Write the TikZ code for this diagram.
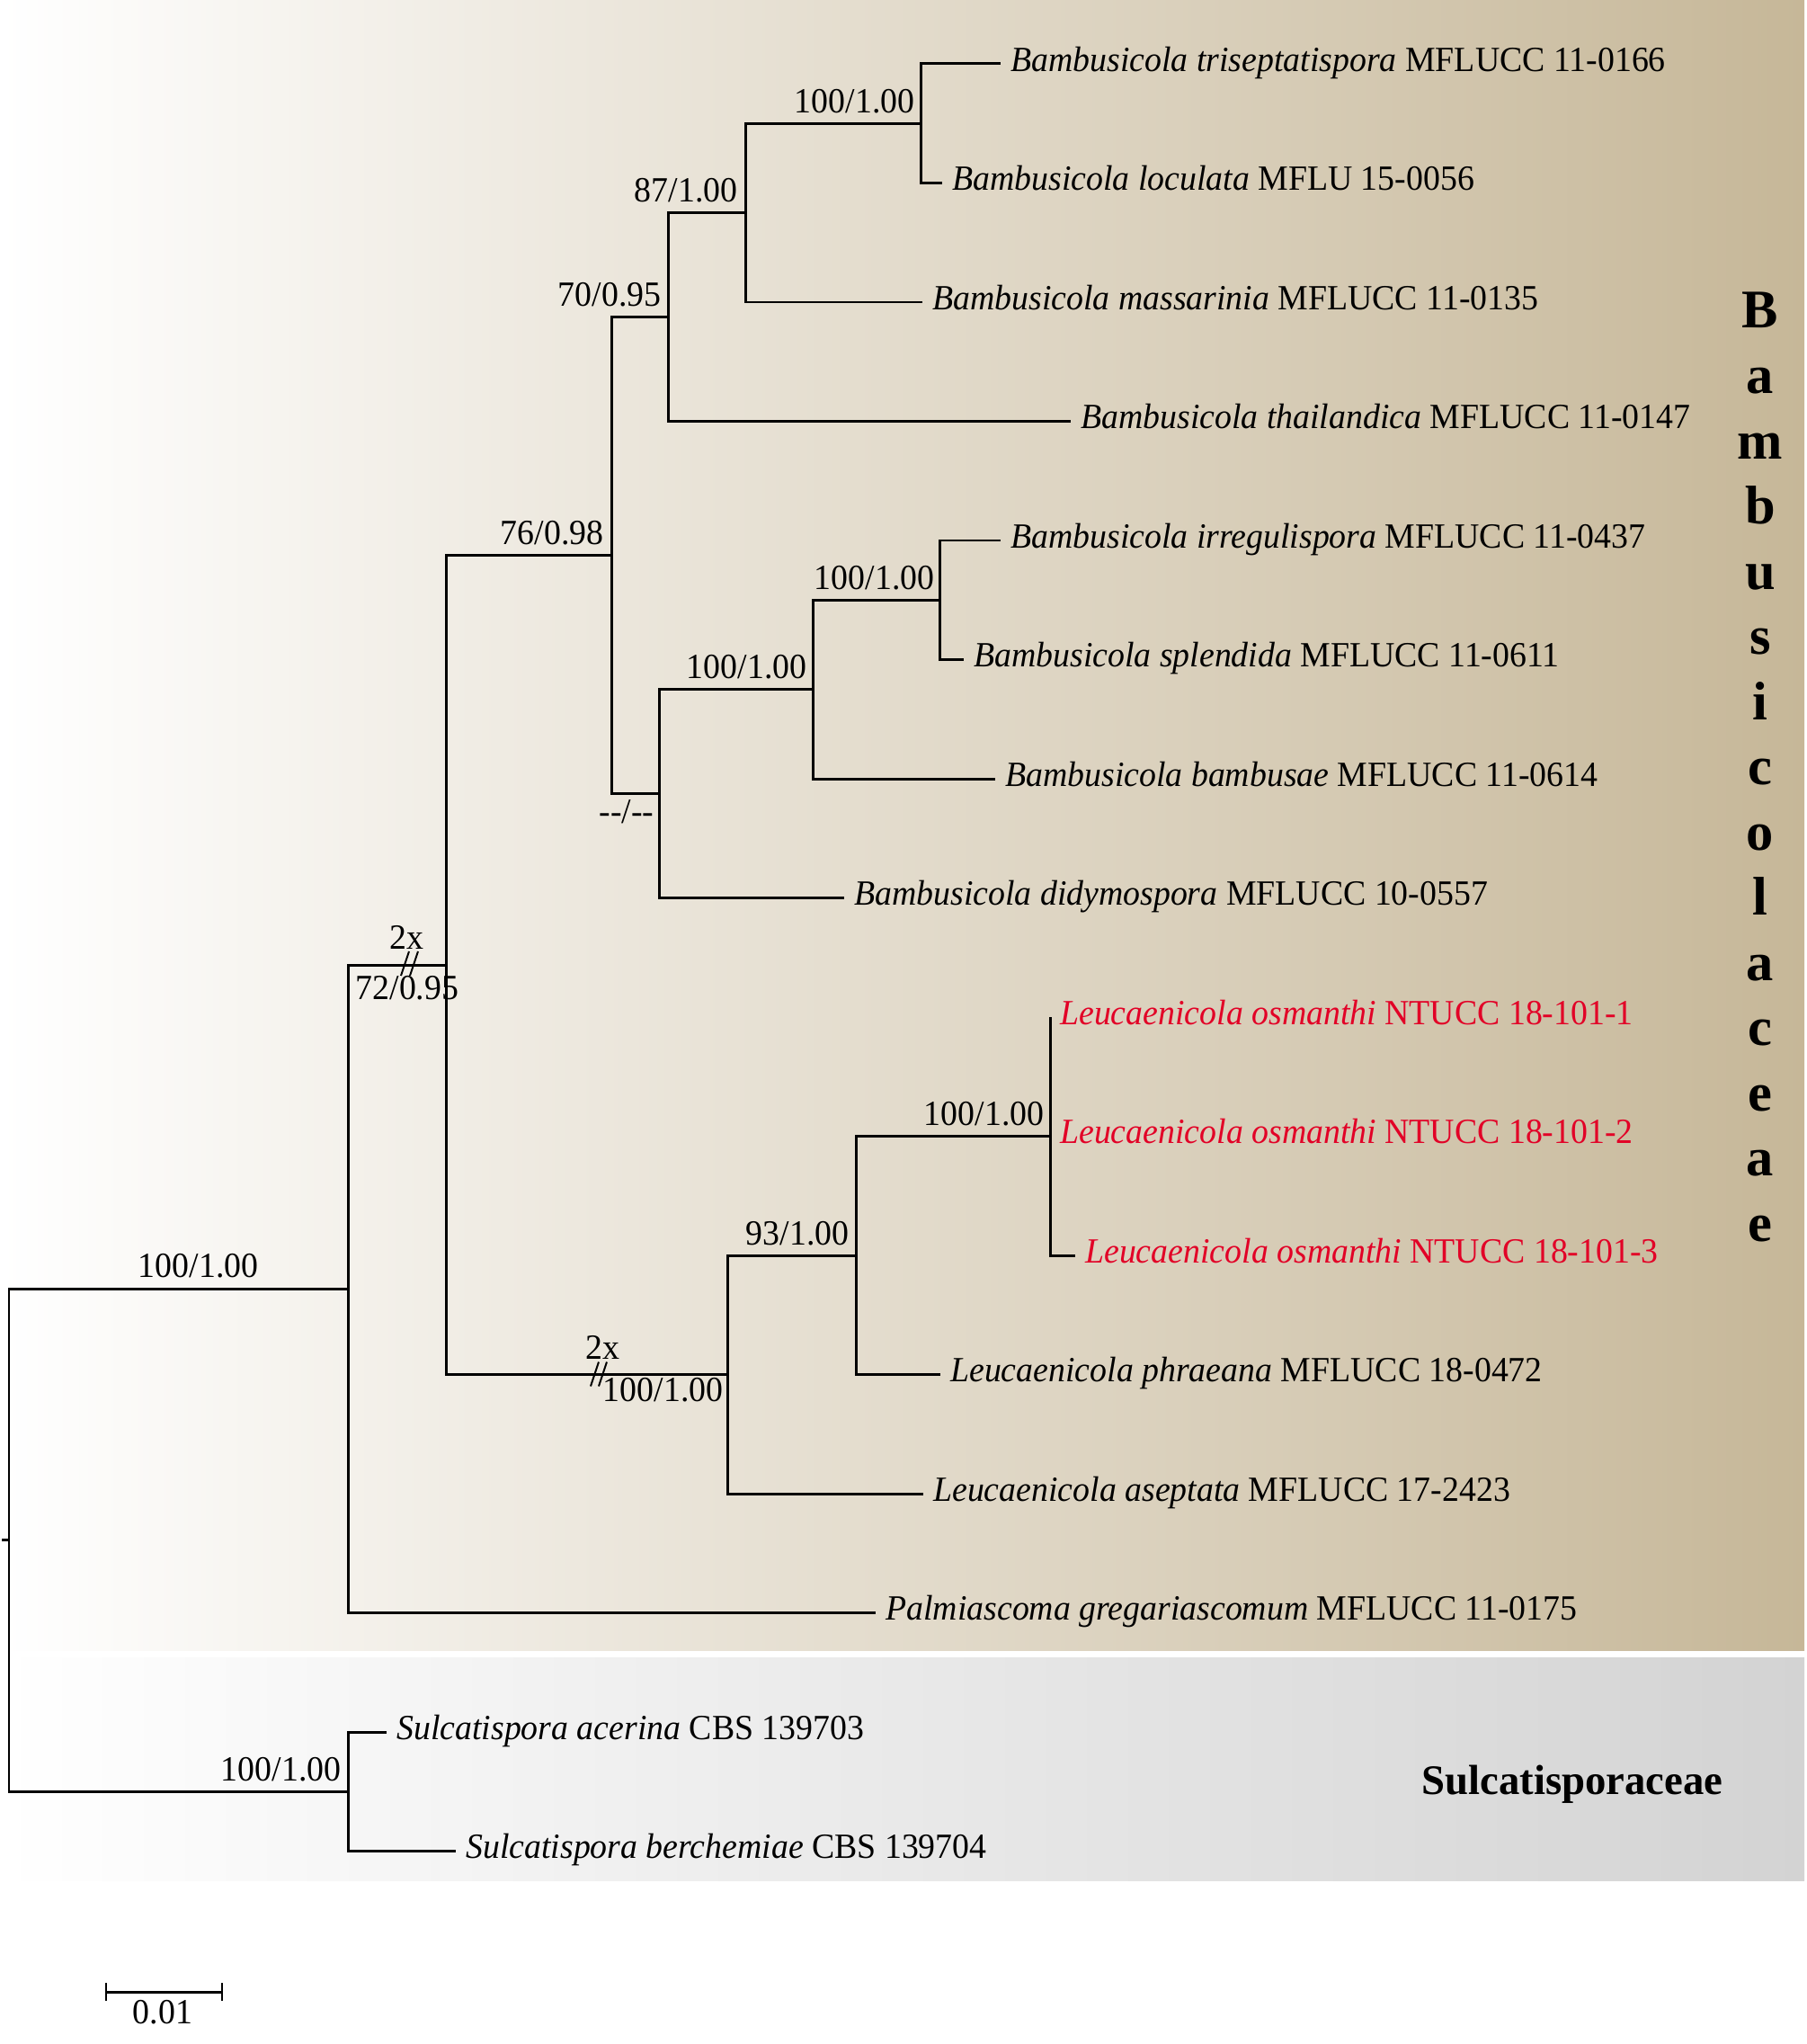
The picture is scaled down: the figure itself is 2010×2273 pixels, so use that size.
\documentclass[tikz,border=0pt]{standalone}
\usepackage{fontspec}
\setmainfont{Liberation Serif}[FakeStretch=0.96]
\newfontfamily\headfont{Liberation Serif}
\definecolor{tanR}{RGB}{198,183,152}
\definecolor{grayR}{RGB}{211,211,211}
\definecolor{hired}{RGB}{226,0,38}
\begin{document}
\begin{tikzpicture}[x=0.01cm,y=-0.01cm,
  br/.style={line width=0.85pt},
  leaf/.style={anchor=west, inner xsep=3pt, inner ysep=0pt, text height=0.7em, text depth=0.22em, font=\fontsize{11.2}{13}\selectfont},
  bs/.style={anchor=base east, inner sep=0pt, font=\fontsize{11.2}{13}\selectfont},
  bsnw/.style={anchor=north west, inner sep=0pt, font=\fontsize{11.2}{13}\selectfont},
  bsne/.style={anchor=north east, inner sep=0pt, font=\fontsize{11.2}{13}\selectfont},
  famletter/.style={anchor=base, inner sep=0pt, font=\headfont\bfseries\fontsize{17.2}{20}\selectfont},
  famname/.style={anchor=base, inner sep=0pt, font=\headfont\bfseries\fontsize{13.3}{16}\selectfont},
  newsp/.style={text=hired}
]
\useasboundingbox (0,0) rectangle (2010,2273);
% backgrounds
\shade[left color=white, right color=tanR] (0,0) rectangle (2007,1835);
\shade[left color=white, right color=grayR] (0,1843) rectangle (2007,2091);

% leaf end coordinates
\coordinate (l1) at (1113,71);
\coordinate (l2) at (1048,203.5);
\coordinate (l3) at (1026,336);
\coordinate (l4) at (1191,468.5);
\coordinate (l5) at (1113,601);
\coordinate (l6) at (1072,733.5);
\coordinate (l7) at (1107,866);
\coordinate (l8) at (939,998.5);
\coordinate (l9) at (1168,1131);
\coordinate (l10) at (1168,1263.5);
\coordinate (l11) at (1196,1396);
\coordinate (l12) at (1046,1528.5);
\coordinate (l13) at (1027,1661);
\coordinate (l14) at (974,1793.5);
\coordinate (l15) at (430,1926);
\coordinate (l16) at (507,2058.5);
% internal nodes
\coordinate (A) at (1024,137.25);
\coordinate (B) at (829,236.6);
\coordinate (C) at (743,352.6);
\coordinate (G) at (1045,667.25);
\coordinate (F) at (904,766.6);
\coordinate (E) at (733,882.6);
\coordinate (D) at (680,617.6);
\coordinate (K) at (1168,1263.5);
\coordinate (J) at (952,1396);
\coordinate (I) at (809,1528.5);
\coordinate (H) at (496,1073);
\coordinate (Ln) at (387,1433);
\coordinate (M) at (387,1992);
\coordinate (R) at (10,1712.6);
\coordinate (rs) at (2,1712.6);

% branches
\draw[br] (A) |- (l1); \draw[br] (A) |- (l2);
\draw[br] (B) |- (A); \draw[br] (B) |- (l3);
\draw[br] (C) |- (B); \draw[br] (C) |- (l4);
\draw[br] (G) |- (l5); \draw[br] (G) |- (l6);
\draw[br] (F) |- (G); \draw[br] (F) |- (l7);
\draw[br] (E) |- (F); \draw[br] (E) |- (l8);
\draw[br] (D) |- (C); \draw[br] (D) |- (E);
\draw[br] (K) |- (l9); \draw[br] (K) |- (l11);
\draw[br] (J) |- (K); \draw[br] (J) |- (l12);
\draw[br] (I) |- (J); \draw[br] (I) |- (l13);
\draw[br] (H) |- (D); \draw[br] (H) |- (I);
\draw[br] (Ln) |- (H); \draw[br] (Ln) |- (l14);
\draw[br] (M) |- (l15); \draw[br] (M) |- (l16);
\draw[br] (R) |- (Ln); \draw[br] (R) |- (M);
\draw[br] (rs) -- (R);

% leaf labels
\node[leaf] (n1) at (l1) {\textit{Bambusicola triseptatispora} MFLUCC 11-0166};
\node[leaf] (n2) at (l2) {\textit{Bambusicola loculata} MFLU 15-0056};
\node[leaf] (n3) at (l3) {\textit{Bambusicola massarinia} MFLUCC 11-0135};
\node[leaf] (n4) at (l4) {\textit{Bambusicola thailandica} MFLUCC 11-0147};
\node[leaf] (n5) at (l5) {\textit{Bambusicola irregulispora} MFLUCC 11-0437};
\node[leaf] (n6) at (l6) {\textit{Bambusicola splendida} MFLUCC 11-0611};
\node[leaf] (n7) at (l7) {\textit{Bambusicola bambusae} MFLUCC 11-0614};
\node[leaf] (n8) at (l8) {\textit{Bambusicola didymospora} MFLUCC 10-0557};
\node[leaf,newsp] (n9) at (l9) {\textit{Leucaenicola osmanthi} NTUCC 18-101-1};
\node[leaf,newsp] (n10) at (l10) {\textit{Leucaenicola osmanthi} NTUCC 18-101-2};
\node[leaf,newsp] (n11) at (l11) {\textit{Leucaenicola osmanthi} NTUCC 18-101-3};
\node[leaf] (n12) at (l12) {\textit{Leucaenicola phraeana} MFLUCC 18-0472};
\node[leaf] (n13) at (l13) {\textit{Leucaenicola aseptata} MFLUCC 17-2423};
\node[leaf] (n14) at (l14) {\textit{Palmiascoma gregariascomum} MFLUCC 11-0175};
\node[leaf] (n15) at (l15) {\textit{Sulcatispora acerina} CBS 139703};
\node[leaf] (n16) at (l16) {\textit{Sulcatispora berchemiae} CBS 139704};

% support values
\node[bs] (sA) at ([shift={(-6,-12)}]A) {100/1.00};
\node[bs] (sB) at ([shift={(-8,-12)}]B) {87/1.00};
\node[bs] (sC) at ([shift={(-7,-12)}]C) {70/0.95};
\node[bs] (sD) at ([shift={(-8,-12)}]D) {76/0.98};
\node[bs] (sF) at ([shift={(-6,-12)}]F) {100/1.00};
\node[bs] (sG) at ([shift={(-5,-12)}]G) {100/1.00};
\node[bs] (sK) at ([shift={(-6,-12)}]K) {100/1.00};
\node[bs] (sJ) at ([shift={(-7,-12)}]J) {93/1.00};
\node[bs] (sLn) at ([shift={(-99,-13)}]Ln) {100/1.00};
\node[bs] (sM) at ([shift={(-7,-12)}]M) {100/1.00};
\node[bsne] (sE) at ([shift={(-5,6)}]E) {-{}-/-{}-};
\node[bsne] (sI) at ([shift={(-4,3)}]I) {100/1.00};
\node[bsnw] (sH) at ([shift={(8,12)}]Ln |- H) {72/0.95};

% breaks (2x)
\coordinate (k1) at (452,1073);
\draw[line width=0.55pt] ([shift={(3,-15)}]k1) -- ([shift={(-6,12)}]k1);
\draw[line width=0.55pt] ([shift={(13,-15)}]k1) -- ([shift={(4,12)}]k1);
\node[bs,anchor=base] (x1) at ([shift={(0,-18)}]k1) {2x};
\coordinate (k2) at (667,1528.5);
\draw[line width=0.55pt] ([shift={(-1,-14)}]k2) -- ([shift={(-10,13)}]k2);
\draw[line width=0.55pt] ([shift={(8,-14)}]k2) -- ([shift={(-1,13)}]k2);
\node[bs,anchor=base] (x2) at ([shift={(3,-17)}]k2) {2x};

% family labels
\foreach \ch [count=\i from 0] in {B,a,m,b,u,s,i,c,o,l,a,c,e,a,e}
  \node[famletter] (fl\i) at (1958,365+72.5*\i) {\ch};
\node[famname] (fam2) at (1749,1995) {Sulcatisporaceae};

% scale bar
\coordinate (sb1) at (118,2215);
\coordinate (sb2) at (247,2215);
\draw[br] (sb1) -- (sb2);
\draw[br] ([shift={(0,-10)}]sb1) -- ([shift={(0,10)}]sb1);
\draw[br] ([shift={(0,-10)}]sb2) -- ([shift={(0,10)}]sb2);
\node[bs,anchor=base] (sbl) at (181,2250) {0.01};
\end{tikzpicture}
\end{document}
